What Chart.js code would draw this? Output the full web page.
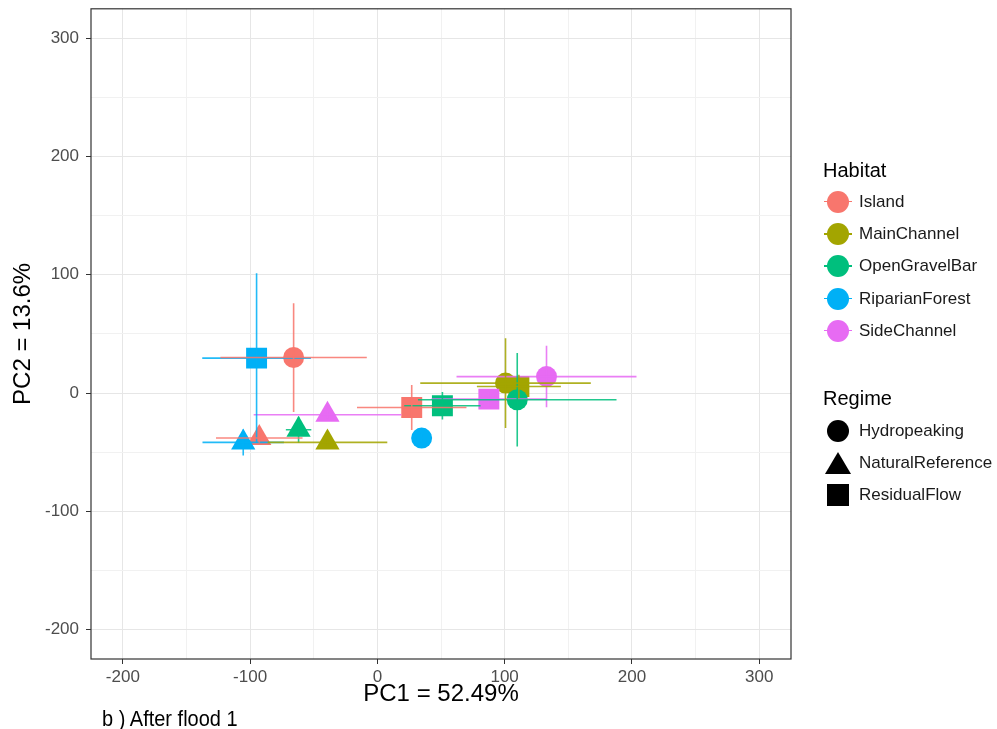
<!DOCTYPE html>
<html>
<head>
<meta charset="utf-8">
<script src="https://cdn.jsdelivr.net/npm/chart.js@4.4.1/dist/chart.umd.min.js"></script>
<style>
  html, body { margin: 0; padding: 0; background: #fff; overflow: hidden; }
  #wrap { position: relative; width: 997px; height: 729px; overflow: hidden; font-family: 'Liberation Sans', Arial, sans-serif; }
  #plot { position: absolute; left: 0; top: -6px; }
  .lg-title { position: absolute; left: 823px; font-size: 20px; color: #000; line-height: 24px; transform: translateY(-50%); }
  .lg-item { position: absolute; left: 823px; display: flex; align-items: center; height: 26px; transform: translateY(-50%); }
  .key { position: relative; width: 30px; height: 26px; margin-right: 6px; }
  .key .bar { position: absolute; left: 1px; top: 12px; width: 28px; height: 1.5px; }
  .key .dot { position: absolute; left: 4px; top: 2px; width: 22px; height: 22px; border-radius: 50%; }
  .key .shape { position: absolute; background: #000; }
  .lg-label { font-size: 17px; color: #1a1a1a; }
  #caption { position: absolute; left: 102px; top: 707px; font-size: 20px; line-height: 1; color: #000; white-space: nowrap; transform: scaleY(1.1); transform-origin: 0 0; }
</style>
</head>
<body>
<div id="wrap">
  <canvas id="plot" width="997" height="735"></canvas>
  <div id="legend"></div>
  <div id="caption">b ) After flood 1</div>
</div>
<script>
// Group names
const habitats = ['Island', 'MainChannel', 'OpenGravelBar', 'RiparianForest', 'SideChannel'];
const regimes = ['Hydropeaking', 'NaturalReference', 'ResidualFlow'];
const habitatColors = ['#F8766D', '#A3A500', '#00BF7D', '#00B0F6', '#E76BF3'];

// Centroids per habitat (rows) and regime (columns: Hydropeaking, NaturalReference, ResidualFlow)
const pc1Mean = [
    [-65.8, -92.8, 27.0],
    [100.7, -39.2, 111.2],
    [109.9, -61.9, 51.1],
    [34.8, -105.4, -94.9],
    [132.9, -39.2, 87.6]
];
const pc2Mean = [
    [30.0, -38.1, -12.2],
    [8.4, -41.8, 5.5],
    [-5.7, -31.1, -10.8],
    [-38.1, -41.8, 29.5],
    [13.9, -18.4, -5.2]
];
// Standard deviations (half length of the error bars)
const pc1Sd = [
    [57.5, 34, 43],
    [67, 47, 33],
    [78, 10, 30],
    [4, 32, 42.7],
    [70.7, 58, 45]
];
const pc2Sd = [
    [46, 4, 19],
    [38, 3, 10],
    [39.6, 11, 11.7],
    [4, 11, 71.8],
    [26, 3, 6]
];

const xTicks = [-200, -100, 0, 100, 200, 300];
const yTicks = [-200, -100, 0, 100, 200, 300];

const xTitle = 'PC1 = 52.49%';
const yTitle = 'PC2 = 13.6%';

// marker look per regime
const shapeStyle = ['circle', 'triangle', 'rect'];
const shapeRadius = [10.5, 14, 14.8];

const FONT = "'Liberation Sans', Arial, sans-serif";

// add the in-between (minor) grid positions
function withMinor(ticks) {
    const out = [];
    for (let i = 0; i < ticks.length; i++) {
        out.push(ticks[i]);
        if (i < ticks.length - 1) out.push((ticks[i] + ticks[i + 1]) / 2);
    }
    return out;
}

const datasets = [];

// error bars first in the list (order 0 => painted over the markers)
habitats.forEach((h, hi) => {
    regimes.forEach((r, ri) => {
        const x = pc1Mean[hi][ri], y = pc2Mean[hi][ri];
        const dx = pc1Sd[hi][ri], dy = pc2Sd[hi][ri];
        const seg = {
            showLine: true,
            pointRadius: 0,
            pointHoverRadius: 0,
            borderColor: habitatColors[hi] + 'dd',
            borderWidth: 1.6,
            order: 0
        };
        datasets.push(Object.assign({ label: h + ' ' + r + ' x', data: [{ x: x - dx, y: y }, { x: x + dx, y: y }] }, seg));
        datasets.push(Object.assign({ label: h + ' ' + r + ' y', data: [{ x: x, y: y - dy }, { x: x, y: y + dy }] }, seg));
    });
});

// markers, later habitats on top
habitats.forEach((h, hi) => {
    datasets.push({
        label: h,
        data: regimes.map((r, ri) => ({ x: pc1Mean[hi][ri], y: pc2Mean[hi][ri] })),
        pointStyle: shapeStyle,
        pointRadius: shapeRadius,
        pointHoverRadius: shapeRadius,
        pointBackgroundColor: habitatColors[hi],
        pointBorderWidth: 0,
        borderColor: habitatColors[hi],
        showLine: false,
        order: 1 + (habitats.length - 1 - hi)
    });
});

const gridColor = ctx => (ctx.tick && ctx.tick.value % 100 === 0) ? '#e6e6e6' : '#f1f1f1';
const tickColor = ctx => (ctx.tick && ctx.tick.value % 100 === 0) ? '#333333' : 'rgba(0,0,0,0)';

const panelBorder = {
    id: 'panelBorder',
    afterDatasetsDraw(chart) {
        const { ctx, chartArea: a } = chart;
        ctx.save();
        ctx.strokeStyle = '#333333';
        ctx.lineWidth = 1.2;
        ctx.strokeRect(a.left, a.top, a.right - a.left, a.bottom - a.top);
        ctx.restore();
    }
};

new Chart(document.getElementById('plot'), {
    type: 'scatter',
    data: { datasets },
    options: {
        responsive: false,
        animation: false,
        events: [],
        layout: { padding: { left: 0, top: 3, right: 206, bottom: 0 } },
        plugins: { legend: { display: false }, tooltip: { enabled: false } },
        scales: {
            x: {
                type: 'linear',
                min: -225,
                max: 325,
                afterBuildTicks: s => { s.ticks = withMinor(xTicks).map(v => ({ value: v })); },
                afterFit: s => { s.height = 70; s.paddingLeft = 0; s.paddingRight = 0; },
                border: { display: false },
                grid: { color: gridColor, tickColor: tickColor, lineWidth: 1, tickLength: 5, drawTicks: true },
                ticks: {
                    autoSkip: false,
                    maxRotation: 0,
                    padding: 3,
                    color: '#4d4d4d',
                    font: { family: FONT, size: 17 },
                    callback: v => (xTicks.includes(v) ? String(v) : '')
                },
                title: { display: true, text: xTitle, color: '#000', font: { family: FONT, size: 24 }, padding: { top: 0, bottom: 20 } }
            },
            y: {
                type: 'linear',
                min: -225,
                max: 325,
                afterBuildTicks: s => { s.ticks = withMinor(yTicks).map(v => ({ value: v })); },
                afterFit: s => { s.width = 91; s.paddingTop = 0; s.paddingBottom = 0; },
                border: { display: false },
                grid: { color: gridColor, tickColor: tickColor, lineWidth: 1, tickLength: 5, drawTicks: true },
                ticks: {
                    autoSkip: false,
                    padding: 7,
                    color: '#4d4d4d',
                    font: { family: FONT, size: 17 },
                    callback: v => (yTicks.includes(v) ? String(v) : '')
                },
                title: { display: true, text: yTitle, color: '#000', font: { family: FONT, size: 24 }, padding: { top: 9, bottom: 0 } }
            }
        }
    },
    plugins: [panelBorder]
});

// Legend, built from the same names and colours
const legend = document.getElementById('legend');
const step = 32.3;

function addTitle(text, top) {
    const t = document.createElement('div');
    t.className = 'lg-title';
    t.style.top = top + 'px';
    t.textContent = text;
    legend.appendChild(t);
}

function addItem(label, top, keyHtml) {
    const it = document.createElement('div');
    it.className = 'lg-item';
    it.style.top = top + 'px';
    it.innerHTML = `<div class="key">${keyHtml}</div><span class="lg-label">${label}</span>`;
    legend.appendChild(it);
}

addTitle('Habitat', 170);
habitats.forEach((h, i) => {
    const c = habitatColors[i];
    addItem(h, 201.7 + i * step,
        `<div class="bar" style="background:${c}"></div><div class="dot" style="background:${c}"></div>`);
});

addTitle('Regime', 398.3);
const regimeKeys = [
    '<div class="shape" style="left:4px;top:2px;width:22px;height:22px;border-radius:50%"></div>',
    '<div class="shape" style="left:2px;top:2px;width:26px;height:22px;clip-path:polygon(50% 0,100% 100%,0 100%)"></div>',
    '<div class="shape" style="left:4px;top:2px;width:22px;height:22px"></div>'
];
regimes.forEach((r, i) => addItem(r, 430.7 + i * step, regimeKeys[i]));
</script>
</body>
</html>
